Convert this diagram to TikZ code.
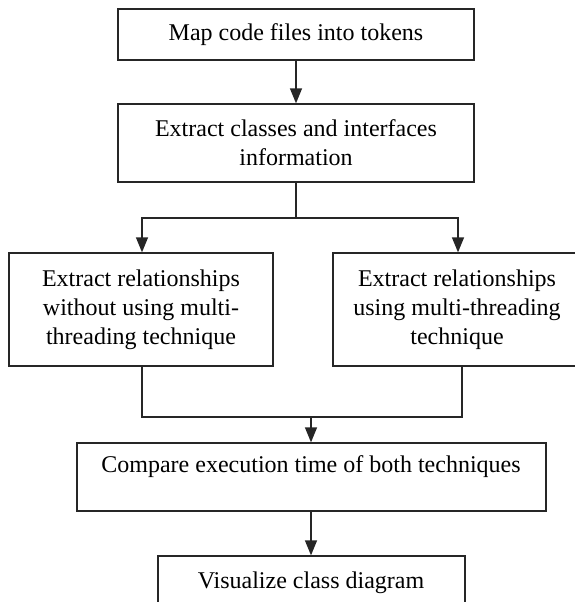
\documentclass[tikz,border=0pt]{standalone}
\usepackage{fontspec}
\setmainfont{Liberation Serif}
\usetikzlibrary{arrows.meta}
\begin{document}
\begin{tikzpicture}[x=1pt,y=-1pt,
  box/.style={draw=black!85, line width=1.3pt, rectangle, inner sep=0pt,
    font=\fontsize{24}{29}\selectfont, align=center},
  label/.style={font=\fontsize{24}{29}\selectfont},
  link/.style={draw=black!85, line width=1.3pt},
  flow/.style={link, -{Triangle[length=15pt,width=12pt]}}]
\useasboundingbox (0,0) rectangle (575,602);
% process steps
\node[box, minimum width=356pt, minimum height=51pt] (tokens) at (296,34.5) {Map code files into tokens};
\node[box, minimum width=356pt, minimum height=78pt] (classes) at (296,143) {Extract classes and interfaces\\information};
\node[box, minimum width=264pt, minimum height=113pt] (seq) at (141,309.5) {Extract relationships\\without using multi-\\threading technique};
\node[box, minimum width=248pt, minimum height=113pt] (par) at (457,309.5) {Extract relationships\\using multi-threading\\technique};
\node[box, minimum width=469pt, minimum height=68pt] (compare) at (311.5,477) {};
\node[label] (comparetext) at (311,467) {Compare execution time of both techniques};
\node[box, minimum width=307pt, minimum height=60pt] (vis) at (311.5,586) {};
\node[label] (vistext) at (311,583) {Visualize class diagram};
% branch and merge points
\coordinate (split) at (296,218);
\coordinate (lb) at (142,218);
\coordinate (rb) at (458,218);
\coordinate (lm) at (142,417);
\coordinate (rm) at (462,417);
\coordinate (merge) at (311,417);
% connectors
\draw[flow] (tokens.south) -- (classes.north);
\draw[link] (classes.south) -- (split);
\draw[flow] (split) -- (lb) -- (lb |- seq.north);
\draw[flow] (split) -- (rb) -- (rb |- par.north);
\draw[link] (lm |- seq.south) -- (lm) -- (rm) -- (rm |- par.south);
\draw[flow] (merge) -- (merge |- compare.north);
\draw[flow] (merge |- compare.south) -- (merge |- vis.north);
\end{tikzpicture}
\end{document}
